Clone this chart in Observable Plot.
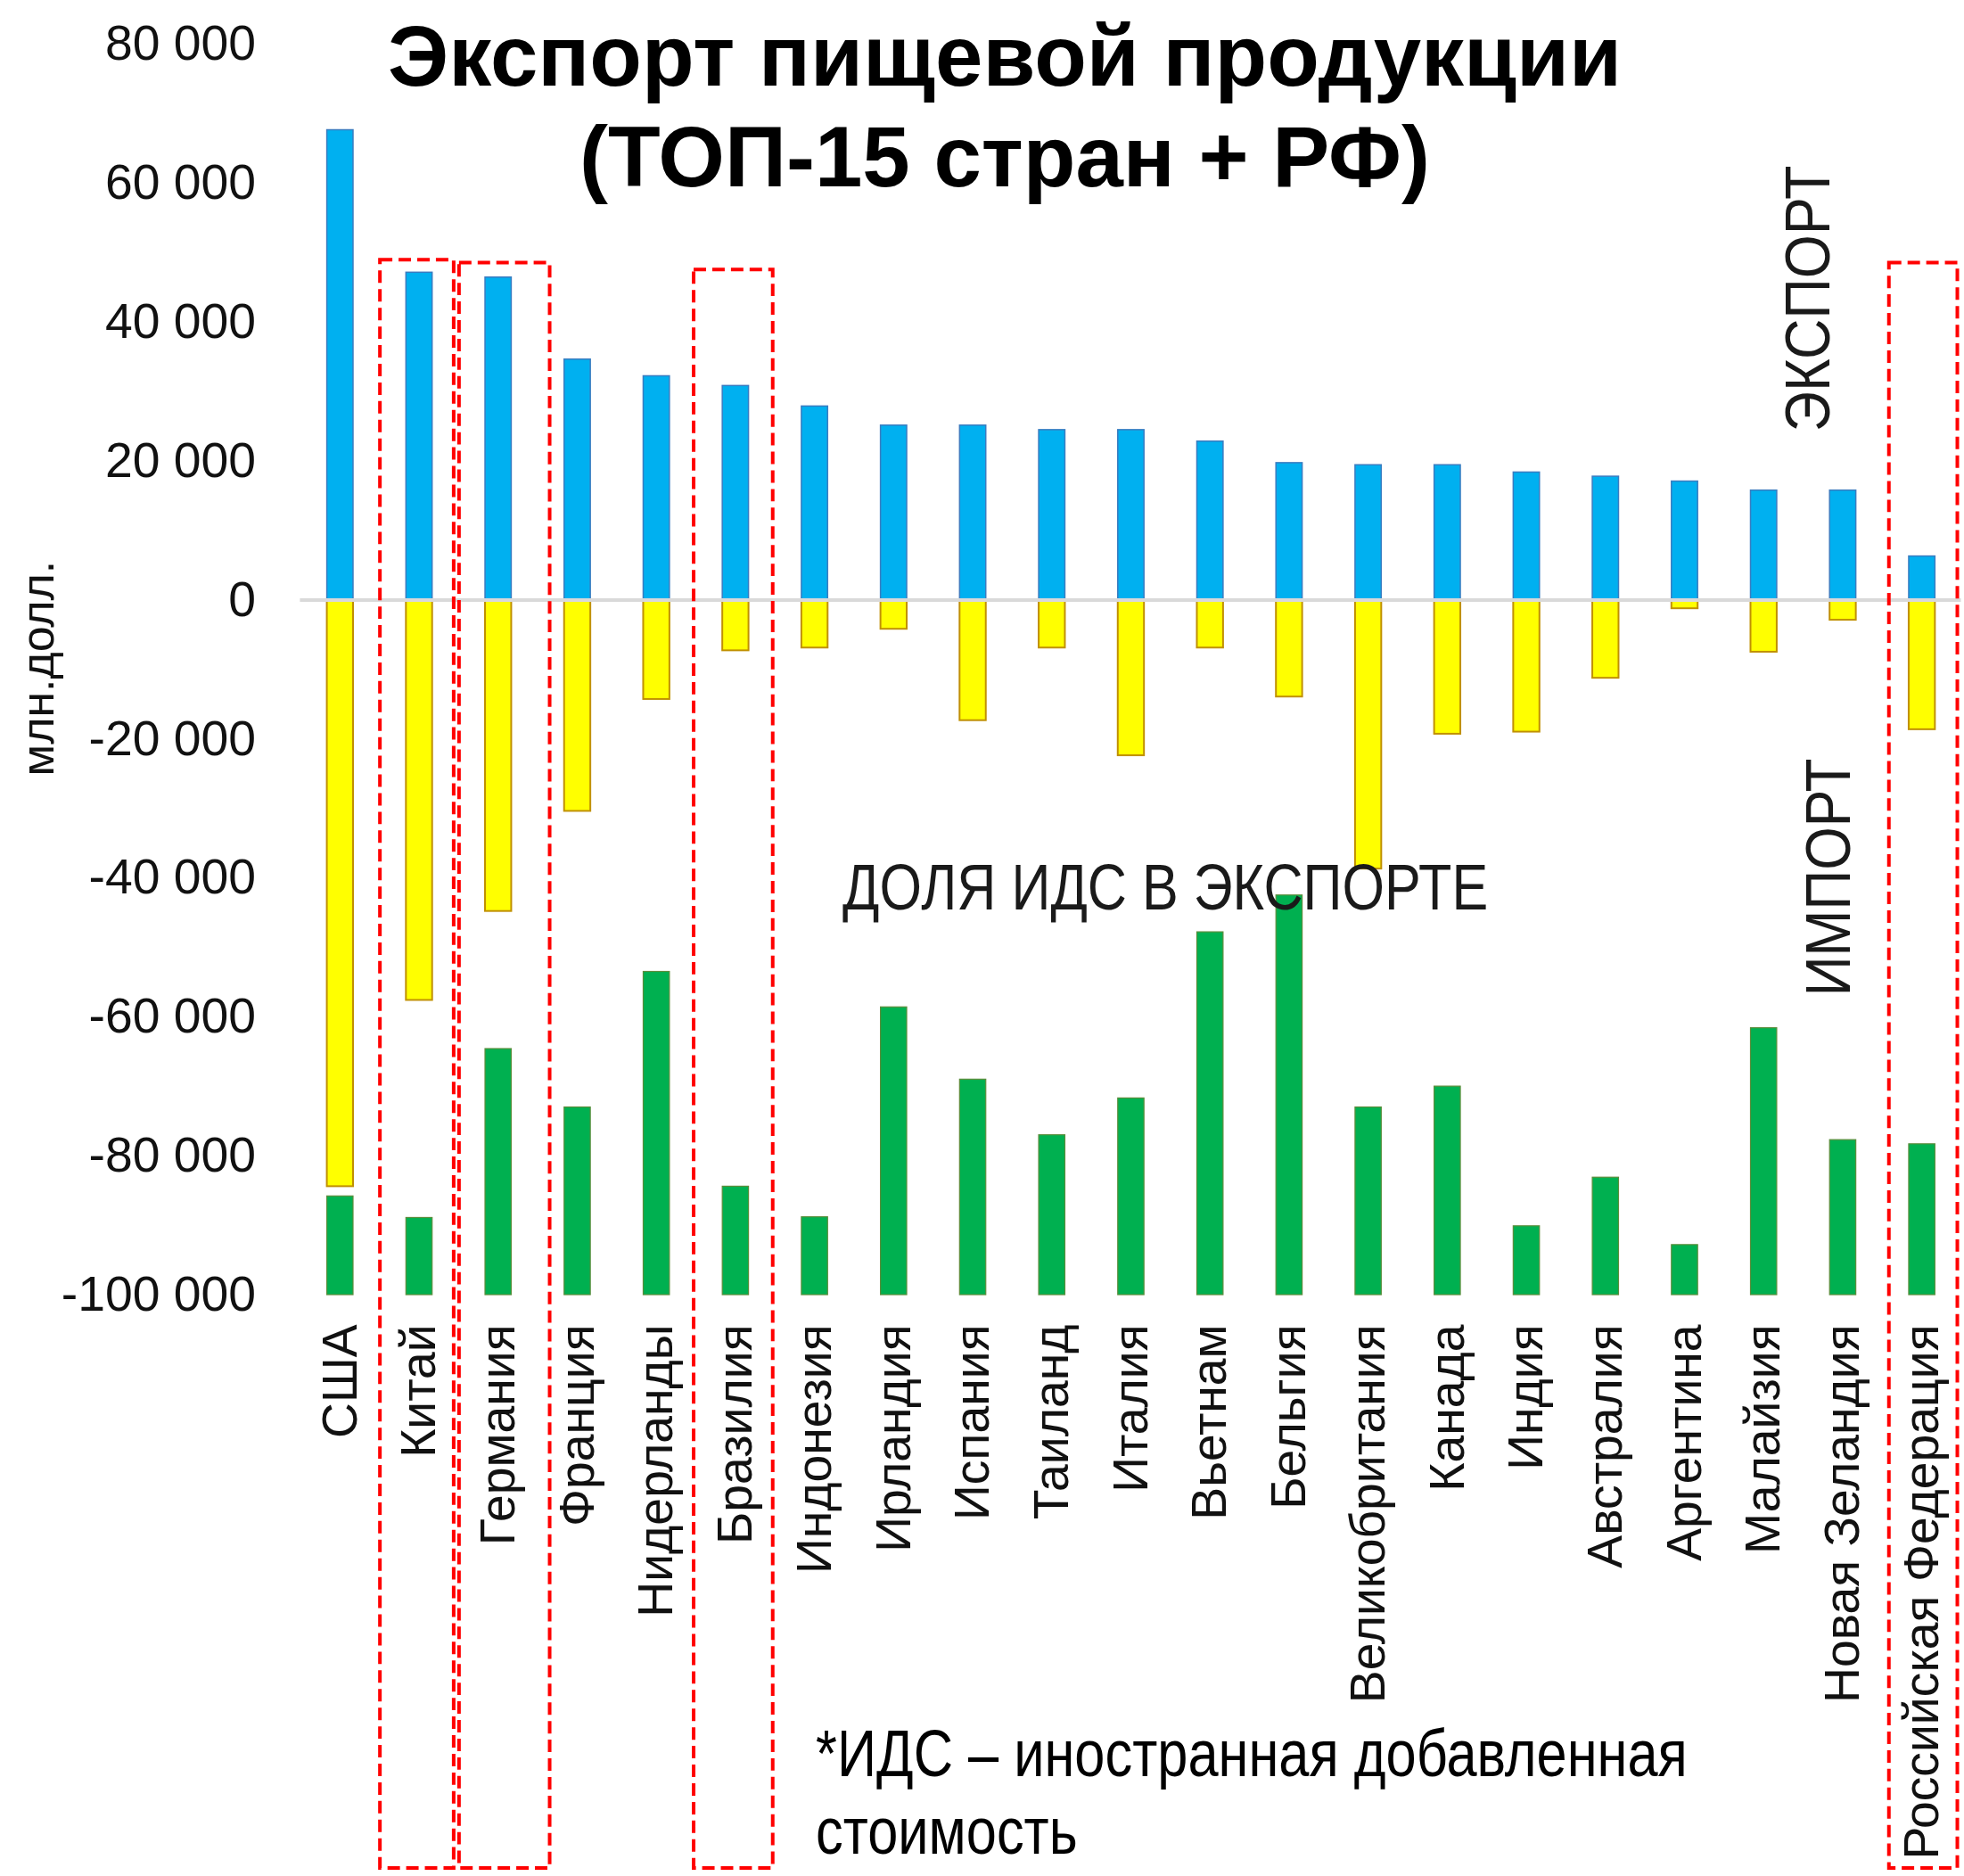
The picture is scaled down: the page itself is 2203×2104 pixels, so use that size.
<!DOCTYPE html>
<html>
<head>
<meta charset="utf-8">
<script src="https://cdn.jsdelivr.net/npm/d3@7"></script>
<script src="https://cdn.jsdelivr.net/npm/@observablehq/plot@0.6"></script>
<style>
html, body { margin: 0; padding: 0; background: #fff; overflow: hidden; }
#wrap { position: relative; width: 2203px; height: 2104px; overflow: hidden; background: #fff; }
#title { position: absolute; left: 227px; top: 6px; width: 1800px; text-align: center;
  font: bold 96px "Liberation Sans", Arial, sans-serif; line-height: 113px; color: #000; }
</style>
</head>
<body>
<div id="wrap">
  <div id="chart"></div>
  <div id="title">Экспорт пищевой продукции<br>(ТОП-15 стран + РФ)</div>
</div>
<script>
// ---- data (млн. долл.) ----
const countries = ["США","Китай","Германия","Франция","Нидерланды","Бразилия","Индонезия","Ирландия","Испания","Таиланд","Италия","Вьетнам","Бельгия","Великобритания","Канада","Индия","Австралия","Аргентина","Малайзия","Новая Зеландия","Российская Федерация"];
const exportValues = [67600, 47100, 46400, 34600, 32200, 30800, 27850, 25100, 25100, 24450, 24450, 22800, 19700, 19400, 19400, 18350, 17750, 17050, 15750, 15750, 6270];
const importValues = [-84400, -57600, -44800, -30400, -14300, -7300, -6900, -4200, -17350, -6900, -22400, -6900, -13950, -38700, -19300, -19000, -11250, -1250, -7500, -2900, -18650];
// доля ИДС в экспорте, % (drawn from the -100 000 baseline, 1% = 1 000)
const idsShare = [14.2, 11.1, 35.4, 27.0, 46.5, 15.6, 11.2, 41.4, 31.0, 23.0, 28.3, 52.2, 57.5, 27.0, 30.0, 9.9, 16.9, 7.2, 38.4, 22.3, 21.7];
const idsBase = -100000;
const yTicks = [80000, 60000, 40000, 20000, 0, -20000, -40000, -60000, -80000, -100000];
const highlighted = ["Китай", "Германия", "Бразилия", "Российская Федерация"];
const highlightTop = [48900, 48500, 47500, 48500];
const highlightBottom = -182500;

// ---- styles ----
const boxInsets = [[0.5, 5.5], [0.5, -13.5], [-2.5, 2.5], [7.5, 4.5]];
const FONT = '"Liberation Sans", Arial, sans-serif';

const rows = countries.map((c, i) => ({
  country: c, exp: exportValues[i], imp: importValues[i], ids: idsBase + idsShare[i] * 1000
}));
const boxes = highlighted.map((c, i) => ({country: c, top: highlightTop[i], bottom: highlightBottom}));

const fmtLocale = d3.formatLocale({decimal: ",", thousands: " ", grouping: [3], currency: ["", ""], minus: "-"});
const fmt = fmtLocale.format(",d");

const barInset = 29.75;

const plot = Plot.plot({
  width: 2210,
  height: 2104,
  marginTop: 49,
  marginBottom: 647.4,
  marginLeft: 337.5,
  marginRight: 3.5,
  style: {fontFamily: FONT, color: "#111", background: "#fff", overflow: "visible"},
  x: {domain: countries, padding: 0, axis: null},
  y: {domain: [-100000, 80000], axis: null},
  marks: [
    Plot.barY(rows, {x: "country", y1: idsBase, y2: "ids", fill: "#00B050", stroke: "#5B8C3A", strokeWidth: 1.2, insetLeft: barInset, insetRight: barInset}),
    Plot.barY(rows, {x: "country", y1: 0, y2: "exp", fill: "#00B0F0", stroke: "#3A7CC0", strokeWidth: 1.5, insetLeft: barInset, insetRight: barInset}),
    Plot.barY(rows, {x: "country", y1: 0, y2: "imp", fill: "#FFFF00", stroke: "#C09000", strokeWidth: 2, insetLeft: barInset, insetRight: barInset}),
    Plot.ruleY([0], {stroke: "#D9D9D9", strokeWidth: 4}),
    Plot.axisY(yTicks, {tickSize: 0, tickPadding: 50, fontSize: 55.5, tickFormat: fmt, label: null}),
    Plot.axisX({tickSize: 0, tickPadding: 33, tickRotate: -90, fontSize: 55.5, label: null}),
    ...boxes.map((b, i) => Plot.barY([b], {
      x: "country", y1: "bottom", y2: "top", fill: "none", stroke: "#FF0000",
      strokeWidth: 4, strokeDasharray: "14,7",
      insetLeft: boxInsets[i][0], insetRight: boxInsets[i][1]
    }))
  ]
});
document.getElementById("chart").appendChild(plot);

// ---- annotations ----
const svg = d3.select(plot);
function note(txt, x, y, opts) {
  const t = svg.append("text")
    .attr("transform", `translate(${x},${y})` + (opts.rotate ? ` rotate(${opts.rotate})` : "") + (opts.sx ? ` scale(${opts.sx},1)` : ""))
    .attr("text-anchor", opts.anchor || "start")
    .attr("font-family", FONT)
    .attr("font-size", opts.size)
    .attr("fill", opts.fill || "#111")
    .text(txt);
  if (opts.central) t.attr("dy", "0.35em");
  return t;
}
note("млн.долл.", 42, 752, {rotate: -90, anchor: "middle", size: 52, central: true});
note("ЭКСПОРТ", 2034, 336, {rotate: -90, anchor: "middle", size: 71, sx: 0.89, central: true, fill: "#1a1a1a"});
note("ИМПОРТ", 2057, 987, {rotate: -90, anchor: "middle", size: 71, sx: 0.88, central: true, fill: "#1a1a1a"});
note("ДОЛЯ ИДС В ЭКСПОРТЕ", 948, 1023, {size: 73, sx: 0.84, fill: "#1a1a1a"});
note("*ИДС – иностранная добавленная", 918, 1998, {size: 74, sx: 0.832, fill: "#000"});
note("стоимость", 918, 2086, {size: 74, sx: 0.832, fill: "#000"});
</script>
</body>
</html>
